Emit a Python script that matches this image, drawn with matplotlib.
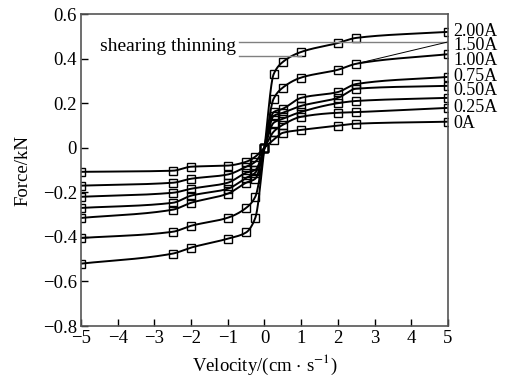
import numpy as np
import matplotlib
matplotlib.use("Agg")
import matplotlib.pyplot as plt

plt.rcParams["font.family"] = ["Liberation Serif", "DejaVu Serif"]
plt.rcParams["mathtext.fontset"] = "stix"

# velocity points (cm/s)
velocity = [-5, -2.5, -2, -1, -0.5, -0.25, 0, 0.25, 0.5, 1, 2, 2.5, 5]

# force (kN) per coil current
currents = ["0A", "0.25A", "0.50A", "0.75A", "1.00A", "1.50A", "2.00A"]
force_0A = [-0.108, -0.103, -0.085, -0.080, -0.063, -0.040, 0, 0.036, 0.067, 0.080, 0.099, 0.108, 0.117]
force_025A = [-0.170, -0.157, -0.139, -0.120, -0.085, -0.063, 0, 0.072, 0.103, 0.139, 0.157, 0.160, 0.179]
force_050A = [-0.220, -0.202, -0.184, -0.157, -0.112, -0.100, 0, 0.112, 0.130, 0.161, 0.200, 0.210, 0.224]
force_075A = [-0.270, -0.247, -0.215, -0.184, -0.135, -0.112, 0, 0.143, 0.157, 0.188, 0.224, 0.265, 0.278]
force_100A = [-0.315, -0.278, -0.247, -0.206, -0.157, -0.139, 0, 0.160, 0.175, 0.224, 0.250, 0.286, 0.318]
force_150A = [-0.405, -0.377, -0.350, -0.314, -0.270, -0.220, 0, 0.220, 0.270, 0.315, 0.350, 0.377, 0.420]
force_200A = [-0.520, -0.475, -0.448, -0.408, -0.380, -0.315, 0, 0.330, 0.385, 0.430, 0.470, 0.493, 0.520]
forces = [force_0A, force_025A, force_050A, force_075A, force_100A, force_150A, force_200A]

# label heights at the right edge (staggered so they don't overlap)
label_y = [0.108, 0.179, 0.256, 0.318, 0.39, 0.457, 0.52]

yticks = [-0.8, -0.6, -0.4, -0.2, 0, 0.2, 0.4, 0.6]
xticks = [-5, -4, -3, -2, -1, 0, 1, 2, 3, 4, 5]


def pchip(x, y, xs):
    """Monotone cubic (Fritsch-Carlson) curve through the points, for drawing."""
    x = np.asarray(x, float)
    y = np.asarray(y, float)
    h = np.diff(x)
    d = np.diff(y) / h
    m = np.zeros_like(y)
    for k in range(1, len(x) - 1):
        if d[k - 1] * d[k] > 0:
            w1 = 2 * h[k] + h[k - 1]
            w2 = h[k] + 2 * h[k - 1]
            m[k] = (w1 + w2) / (w1 / d[k - 1] + w2 / d[k])
    m[0] = d[0]
    m[-1] = d[-1]
    idx = np.clip(np.searchsorted(x, xs) - 1, 0, len(x) - 2)
    t = (xs - x[idx]) / h[idx]
    h00 = 2 * t**3 - 3 * t**2 + 1
    h10 = t**3 - 2 * t**2 + t
    h01 = -2 * t**3 + 3 * t**2
    h11 = t**3 - t**2
    return h00 * y[idx] + h10 * h[idx] * m[idx] + h01 * y[idx + 1] + h11 * h[idx] * m[idx + 1]


fig = plt.figure(figsize=(5.12, 3.8), dpi=100)
ax = fig.add_axes([0.158, 0.142, 0.717, 0.821])

xs = np.linspace(-5, 5, 1200)
for f in forces:
    ax.plot(xs, pchip(velocity, f, xs), color="black", lw=1.4)
    ax.plot(velocity, f, "s", ms=6, mfc="none", mec="black", mew=1.0)

for lab, yl in zip(currents, label_y):
    ax.annotate(lab, xy=(5, yl), xytext=(4, 0), textcoords="offset points",
                ha="left", va="center", fontsize=13, annotation_clip=False)

# shearing thinning marker
ax.plot([-0.68, 5], [0.475, 0.475], color="#808080", lw=1.0)
ax.plot([-0.68, 1.0], [0.41, 0.41], color="#808080", lw=1.0)
ax.plot([2.5, 5], [0.377, 0.475], color="black", lw=0.7)
ax.text(-0.78, 0.455, "shearing thinning", ha="right", va="center", fontsize=14)

ax.set_xlim(-5, 5)
ax.set_ylim(-0.8, 0.6)
ax.set_xticks(xticks)
ax.set_xticklabels([str(v).replace("-", "\u2212") for v in xticks])
ax.set_yticks(yticks)
ax.set_yticklabels(["0" if v == 0 else f"{v:.1f}".replace("-", "\u2212") for v in yticks])
ax.tick_params(direction="in", length=5, width=1, labelsize=13.5, colors="black", pad=3)
for s in ax.spines.values():
    s.set_color("#555555")
    s.set_linewidth(1.2)

ax.set_xlabel("Velocity/(cm$\\,\\cdot\\,$s$^{-1}$)", fontsize=13.5, labelpad=4)
ax.set_ylabel("Force/kN", fontsize=13.5, labelpad=8)

fig.savefig("out.png", dpi=100)
